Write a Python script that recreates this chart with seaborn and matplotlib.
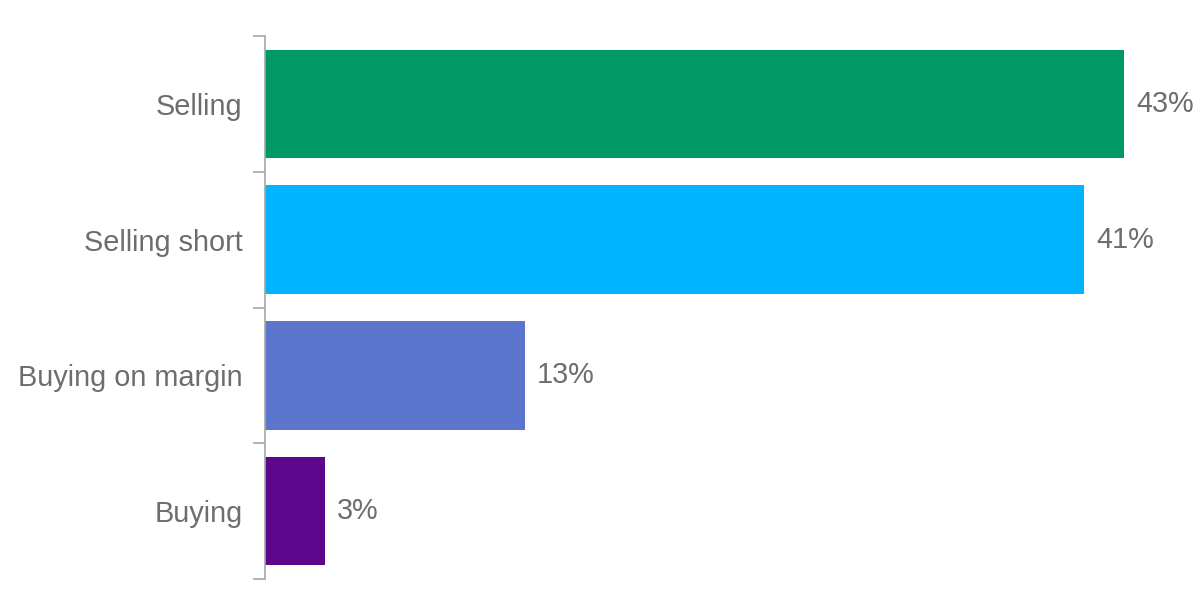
import pandas as pd
import matplotlib.pyplot as plt
import seaborn as sns
from matplotlib.ticker import FixedLocator

categories = ['Selling', 'Selling short', 'Buying on margin', 'Buying']
shares = [43, 41, 13, 3]
bar_colors = ['#009966', '#00B4FF', '#5B76CC', '#5C068C']

df = pd.DataFrame({'category': categories, 'share': shares})

sns.set_style('white')
plt.rcParams['font.family'] = ['Liberation Sans', 'DejaVu Sans']

fig = plt.figure(figsize=(12, 6.04), dpi=100)
ax = fig.add_axes([265 / 1200, 25 / 604, 935 / 1200, 543 / 604])

sns.barplot(data=df, x='share', y='category', hue='category', palette=bar_colors,
            width=0.8, saturation=1, linewidth=0, legend=False, ax=ax, orient='h')

for i, v in enumerate(shares):
    ax.text(v + 0.6, i, f'{v}%', va='center', ha='left', fontsize=20.8, color='#6D6D6D')

ax.set_xlim(0, 935 / 19.98)
ax.set_ylim(len(categories) - 0.5, -0.5)
ax.set_xlabel('')
ax.set_ylabel('')
ax.set_xticks([])
ax.tick_params(axis='y', which='major', length=0, pad=16, labelsize=20.8, labelcolor='#6D6D6D')
ax.yaxis.set_minor_locator(FixedLocator([-0.5, 0.5, 1.5, 2.5, 3.5]))
ax.tick_params(axis='y', which='minor', left=True, length=9, width=1.2, color='#A6A6A6')

for side in ['top', 'right', 'bottom']:
    ax.spines[side].set_visible(False)
ax.spines['left'].set_color('#A6A6A6')
ax.spines['left'].set_linewidth(1.2)

fig.savefig('out.png', dpi=100)
